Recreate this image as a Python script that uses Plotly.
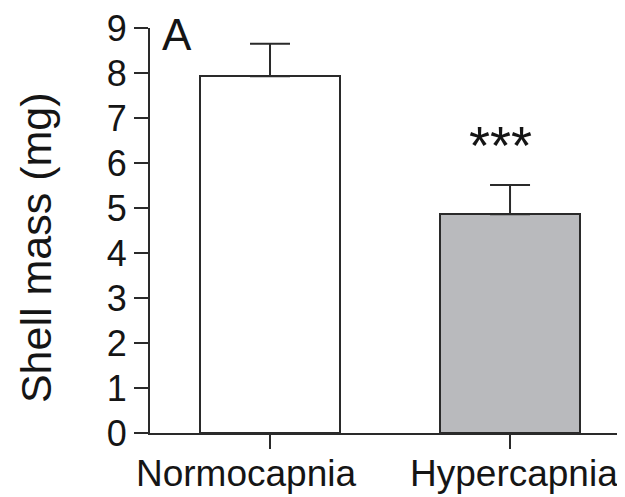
import plotly.graph_objects as go

categories = ["Normocapnia", "Hypercapnia"]
means = [7.93, 4.86]
sem = [0.72, 0.65]
colors = ["#ffffff", "#b9babd"]
significance = ["", "***"]
y_ticks = [0, 1, 2, 3, 4, 5, 6, 7, 8, 9]
label_shift = [-24, 4]

line_col = "#2a2a2a"
text_col = "#151515"
font_fam = "Liberation Sans, Arial, Helvetica, sans-serif"

# plot area in page pixels (page has an 8px body margin)
PL, PR, PT, PB = 150, 625, 27.5, 433.3
W_PLOT, H_PLOT = PR - PL, PB - PT

def px_x(px):
    return (px - PL) / W_PLOT

def px_y(py):
    return (PB - py) / H_PLOT

fig = go.Figure()
fig.add_trace(go.Bar(
    x=categories, y=means,
    width=0.583,
    marker=dict(color=colors, line=dict(color=line_col, width=2)),
    error_y=dict(type="data", symmetric=False, array=sem, arrayminus=[0, 0],
                 color=line_col, thickness=2, width=20),
    showlegend=False,
))

for cat, sig, sh in zip(categories, significance, label_shift):
    if sig:
        fig.add_annotation(x=cat, y=6.4, text=sig, showarrow=False,
                           xshift=-10, yanchor="middle",
                           font=dict(size=54, color=text_col, family=font_fam))
    fig.add_annotation(x=cat, yref="paper", y=px_y(474), text=cat, showarrow=False,
                       xshift=sh, xanchor="center", yanchor="middle",
                       font=dict(size=37, color=text_col, family=font_fam))

fig.add_annotation(xref="paper", yref="paper", x=px_x(177), y=px_y(34),
                   text="A", showarrow=False, xanchor="center", yanchor="middle",
                   font=dict(size=44, color=text_col, family=font_fam))

fig.add_annotation(xref="paper", yref="paper", x=px_x(36), y=px_y(248),
                   text="Shell mass (mg)", textangle=-90, showarrow=False,
                   xanchor="center", yanchor="middle",
                   font=dict(size=43, color=text_col, family=font_fam))

# extend x-axis line to the left under y tick length
fig.add_shape(type="line", xref="paper", yref="paper", x0=px_x(136), x1=0, y0=0, y1=0,
              line=dict(color=line_col, width=2))

fig.update_layout(
    width=625, height=497,
    margin=dict(l=PL - 8, r=8, t=PT - 8, b=497 - (PB - 8)),
    paper_bgcolor="white", plot_bgcolor="white",
    bargap=0,
    xaxis=dict(range=[-0.5, 1.479], showline=True, linecolor=line_col, linewidth=2,
               ticks="outside", ticklen=14, tickwidth=2, tickcolor=line_col,
               showticklabels=False, showgrid=False, zeroline=False, automargin=False),
    yaxis=dict(range=[0, 9.001], tickvals=y_ticks, showline=True, linecolor=line_col, linewidth=2,
               ticks="outside", ticklen=14, tickwidth=2, tickcolor=line_col,
               ticklabeloverflow="allow", automargin=False,
               showgrid=False, zeroline=False,
               tickfont=dict(size=36, color=text_col, family=font_fam)),
)

fig.write_html("out.html")
